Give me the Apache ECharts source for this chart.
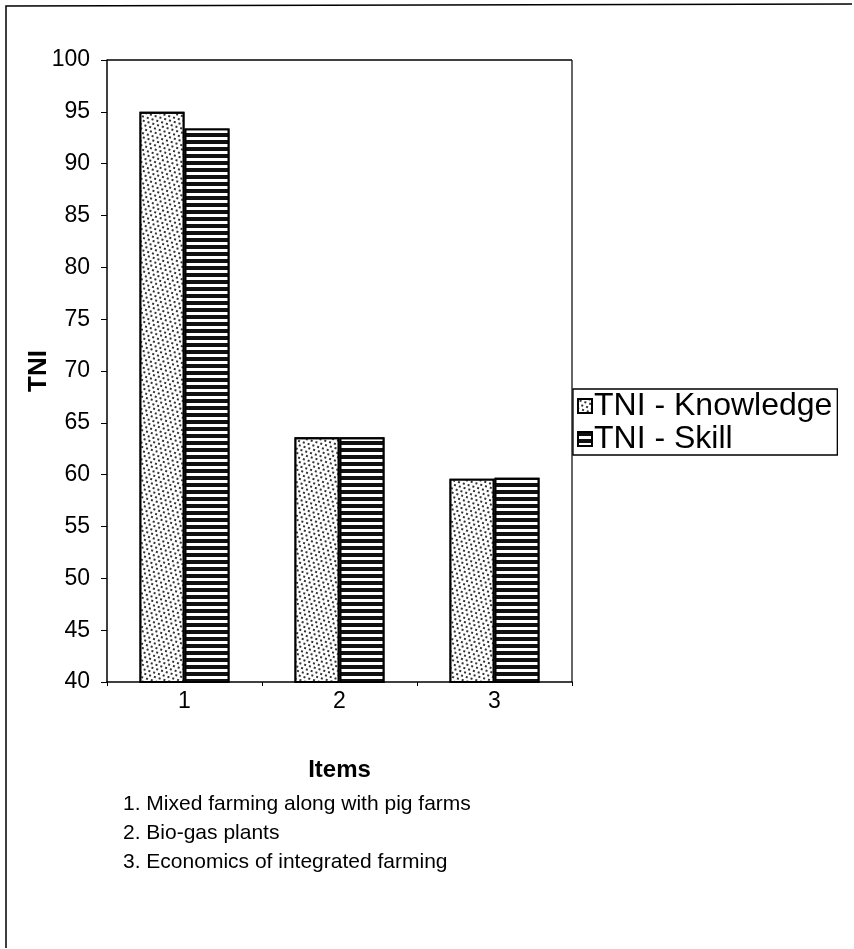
<!DOCTYPE html>
<html><head><meta charset="utf-8">
<script src="https://cdn.jsdelivr.net/npm/echarts@6/dist/echarts.min.js"></script>
<style>html,body{margin:0;padding:0;background:#fff}#c{width:854px;height:949px}</style>
</head><body><div id="c"></div>
<script>
var categories = ['1', '2', '3'];
var knowledge = [95.0, 63.6, 59.6];
var skill = [93.4, 63.6, 59.7];
var seriesNames = ['TNI - Knowledge', 'TNI - Skill'];
var footnotes = ['1. Mixed farming along with pig farms', '2. Bio-gas plants', '3. Economics of integrated farming'];

var chart = echarts.init(document.getElementById('c'));
var font = 'Liberation Sans, Arial, sans-serif';
var dotDecal = {symbol: 'rect', symbolSize: 1, dashArrayX: [[1.5, 2.5], [0, 2, 1.5, 0.5]], dashArrayY: [1.5, 1.5], rotation: 0.3, color: '#333'};
var stripeDecal = {symbol: 'rect', symbolSize: 1, dashArrayX: [1, 0], dashArrayY: [4, 3], rotation: 0, color: '#111'};
chart.setOption({
  animation: false,
  backgroundColor: '#fff',
  grid: {left: 107, right: 282, top: 60, bottom: 267, containLabel: false},
  legend: {
    data: seriesNames,
    orient: 'vertical',
    left: 573, top: 389,
    icon: 'rect',
    itemWidth: 14, itemHeight: 14, itemGap: 1,
    padding: [1, 5, 0, 4],
    borderColor: '#000', borderWidth: 1.3,
    textStyle: {fontFamily: font, fontSize: 32, lineHeight: 31, color: '#000', padding: [0, 0, 0, -3]}
  },
  xAxis: {
    type: 'category', data: categories,
    name: 'Items', nameLocation: 'middle', nameGap: 76,
    nameTextStyle: {fontFamily: font, fontSize: 24, fontWeight: 'bold', color: '#000'},
    axisLine: {lineStyle: {color: '#000', width: 1.5}},
    axisTick: {show: true, length: 4, inside: false, lineStyle: {color: '#000'}},
    axisLabel: {fontFamily: font, fontSize: 23, color: '#000', margin: 8}
  },
  yAxis: {
    type: 'value', min: 40, max: 100, interval: 5,
    name: 'TNI', nameLocation: 'middle', nameGap: 55, nameMoveOverlap: false,
    nameTextStyle: {fontFamily: font, fontSize: 26, fontWeight: 'bold', color: '#000'},
    axisLine: {show: true, lineStyle: {color: '#000', width: 1.5}},
    axisTick: {show: true, length: 6, lineStyle: {color: '#000'}},
    axisLabel: {fontFamily: font, fontSize: 23, color: '#000', margin: 17},
    splitLine: {show: false}
  },
  series: [
    {
      name: seriesNames[0], type: 'bar', data: knowledge,
      barWidth: 45, barGap: '0%',
      itemStyle: {color: '#fff', borderColor: '#000', borderWidth: 1.8, decal: dotDecal}
    },
    {
      name: seriesNames[1], type: 'bar', data: skill,
      barWidth: 45,
      itemStyle: {color: '#fff', borderColor: '#000', borderWidth: 1.8, decal: stripeDecal}
    }
  ],
  graphic: [
    {type: 'polyline', shape: {points: [[6, 948], [6, 6], [852, 4]]}, style: {stroke: '#000', lineWidth: 1.5, fill: null}},
    {type: 'line', shape: {x1: 107, y1: 60, x2: 572, y2: 60}, style: {stroke: '#000', lineWidth: 1.5}},
    {type: 'line', shape: {x1: 572, y1: 60, x2: 572, y2: 682}, style: {stroke: '#000', lineWidth: 1.2}},
    {type: 'text', left: 123, top: 794, style: {text: footnotes[0], font: '21px ' + font, fill: '#000'}},
    {type: 'text', left: 123, top: 823, style: {text: footnotes[1], font: '21px ' + font, fill: '#000'}},
    {type: 'text', left: 123, top: 852, style: {text: footnotes[2], font: '21px ' + font, fill: '#000'}}
  ]
});
</script></body></html>
